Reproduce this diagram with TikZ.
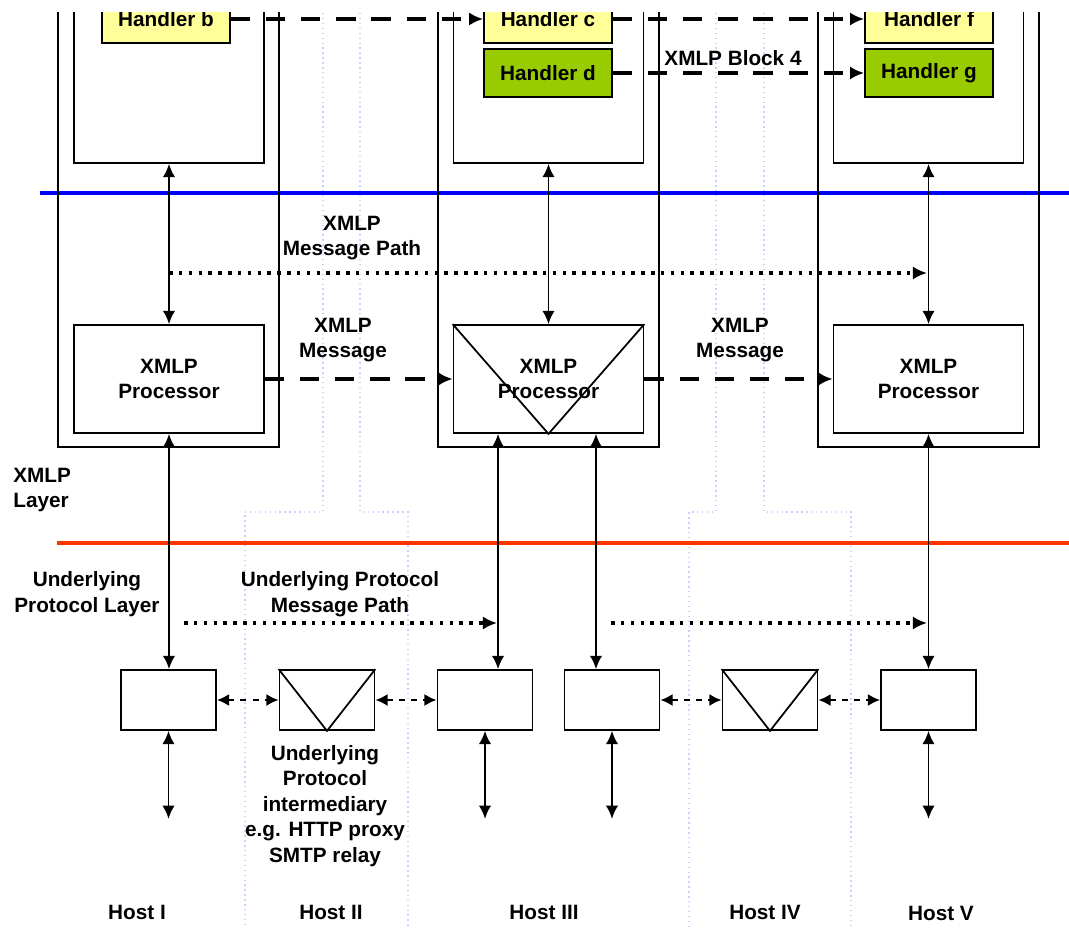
\documentclass[tikz,border=0pt]{standalone}
\usepackage{fontspec}
\setmainfont{Liberation Sans}
\usetikzlibrary{arrows.meta}

\definecolor{amarillo}{HTML}{FFFF99}
\definecolor{verde}{HTML}{99CC00}
\definecolor{azul}{HTML}{0000FF}
\definecolor{rojo}{HTML}{FF3300}
\definecolor{lila}{HTML}{CDCDFF}

\tikzset{
  texto/.style={font=\bfseries\fontsize{11.8}{14.5}\selectfont, align=center, inner sep=0pt},
  caja/.style={draw, line width=1pt, inner sep=0pt},
  handler/.style={caja, texto, minimum width=2.56cm, minimum height=0.96cm},
  proc/.style={caja, texto, minimum width=3.8cm, minimum height=2.16cm},
  bajo/.style={caja, minimum width=1.9cm, minimum height=1.2cm},
  contenedor/.style={caja, minimum width=3.8cm, minimum height=4.12cm},
  host/.style={caja, minimum width=4.42cm, minimum height=9.74cm},
  flecha/.style={line width=1.1pt, {Latex[length=7.5pt,width=7pt]}-{Latex[length=7.5pt,width=7pt]}},
  raya/.style={line width=2.3pt, dash pattern=on 11pt off 9pt, -{Latex[length=8pt,width=7.5pt]}},
  rayita/.style={line width=1.4pt, dash pattern=on 3.5pt off 3.5pt, {Latex[length=7pt,width=7pt]}-{Latex[length=7pt,width=7pt]}},
  puntos/.style={line width=2.2pt, dash pattern=on 2pt off 3.6pt, -{Latex[length=8pt,width=7.5pt]}}
}

\begin{document}
\begin{tikzpicture}[x=0.02cm,y=-0.02cm]
        \useasboundingbox (0,0) rectangle (1069,929);
        \clip (0,13) rectangle (1069,929);

        %limites de los hosts intermedios
        \draw[lila, line width=0.8pt, dotted] (323,13) -- (323,512) -- (245,512) -- (245,929);
        \draw[lila, line width=0.8pt, dotted] (360,13) -- (360,512) -- (408,512) -- (408,929);
        \draw[lila, line width=0.8pt, dotted] (716,13) -- (716,512) -- (689,512) -- (689,929);
        \draw[lila, line width=0.8pt, dotted] (764,13) -- (764,512) -- (851,512) -- (851,929);

        %capas
        \draw[azul, line width=2.8pt] (40,193) -- (1069,193);
        \draw[rojo, line width=2.3pt] (57,543) -- (1069,543);

        %hosts con procesador XMLP
        \node[host] (hostI) at (168.5,203.5) {};
        \node[host] (hostIII) at (548.5,203.5) {};
        \node[host] (hostV) at (928.5,203.5) {};

        \node[contenedor] (contI) at (169,60) {};
        \node[contenedor] (contIII) at (548.5,60) {};
        \node[contenedor] (contV) at (928.5,60) {};

        \node[handler, fill=amarillo] (hb) at (166,19) {Handler b};
        \node[handler, fill=amarillo] (hc) at (548,19) {Handler c};
        \node[handler, fill=verde] (hd) at (548,73) {Handler d};
        \node[handler, fill=amarillo] (hf) at (929,19) {Handler f};
        \node[handler, fill=verde] (hg) at (929,73) {Handler g};

        \node[proc] (procI) at (169,379) {XMLP\\Processor};
        \node[proc] (procIII) at (548.5,379) {XMLP\\Processor};
        \draw[line width=1pt] (procIII.north west) -- (procIII.south) -- (procIII.north east);
        \node[proc] (procV) at (928.5,379) {XMLP\\Processor};

        %cajas del protocolo subyacente
        \node[bajo] (lowI) at (168.5,700) {};
        \node[bajo] (intII) at (327,700) {};
        \draw[line width=1pt] (intII.north west) -- (intII.south) -- (intII.north east);
        \node[bajo] (lowIIIa) at (485,700) {};
        \node[bajo] (lowIIIb) at (612,700) {};
        \node[bajo] (intIV) at (770,700) {};
        \draw[line width=1pt] (intIV.north west) -- (intIV.south) -- (intIV.north east);
        \node[bajo] (lowV) at (928.5,700) {};

        %flechas verticales
        \draw[flecha] (contI.south) -- (procI.north);
        \draw[flecha] (contIII.south) -- (procIII.north);
        \draw[flecha] (contV.south) -- (procV.north);
        \draw[flecha] (procI.south) -- (procI.south |- lowI.north);
        \draw[flecha] ([xshift=-1.01cm]procIII.south) -- ([xshift=-1.01cm]procIII.south |- lowIIIa.north);
        \draw[flecha] ([xshift=0.95cm]procIII.south) -- ([xshift=0.95cm]procIII.south |- lowIIIb.north);
        \draw[flecha] (procV.south) -- (procV.south |- lowV.north);

        \draw[flecha] (lowI.south) -- ++(0,88);
        \draw[flecha] (lowIIIa.south) -- ++(0,88);
        \draw[flecha] (lowIIIb.south) -- ++(0,88);
        \draw[flecha] (lowV.south) -- ++(0,88);

        %mensajes
        \draw[raya] (hb.east) -- (hc.west);
        \draw[raya] (hc.east) -- (hf.west);
        \draw[raya] (hd.east) -- (hg.west);
        \draw[raya] (procI.east) -- (procIII.west);
        \draw[raya] (procIII.east) -- (procV.west);

        \draw[rayita] (lowI.east) -- (intII.west);
        \draw[rayita] (intII.east) -- (lowIIIa.west);
        \draw[rayita] (lowIIIb.east) -- (intIV.west);
        \draw[rayita] (intIV.east) -- (lowV.west);

        %caminos punteados
        \coordinate (mpA) at (169,273);
        \coordinate (mpB) at (927,273);
        \draw[puntos] (mpA) -- (mpB);
        \coordinate (upA) at (184,623);
        \coordinate (upB) at (497,623);
        \coordinate (upC) at (611,623);
        \coordinate (upD) at (927,623);
        \draw[puntos] (upA) -- (upB);
        \draw[puntos] (upC) -- (upD);

        %etiquetas
        \node[texto] (lblBlock) at (733,58) {XMLP Block 4};
        \node[texto] (lblPath) at (352,238) {XMLP\\Message Path};
        \node[texto] (lblMsgA) at (343,340) {XMLP\\Message};
        \node[texto] (lblMsgB) at (740,340) {XMLP\\Message};
        \node[texto, align=left, anchor=west] (lblXL) at (13,490) {XMLP\\Layer};
        \node[texto] (lblUL) at (87,594) {Underlying\\Protocol Layer};
        \node[texto] (lblUP) at (340,594) {Underlying Protocol\\Message Path};
        \node[texto] (lblInt) at (325,806) {Underlying\\Protocol\\intermediary\\e.g. HTTP proxy\\SMTP relay};

        \node[texto] (hI) at (137,912) {Host I};
        \node[texto] (hII) at (331,912) {Host II};
        \node[texto] (hIII) at (544,912) {Host III};
        \node[texto] (hIV) at (765,912) {Host IV};
        \node[texto] (hV) at (941,913) {Host V};
\end{tikzpicture}
\end{document}
